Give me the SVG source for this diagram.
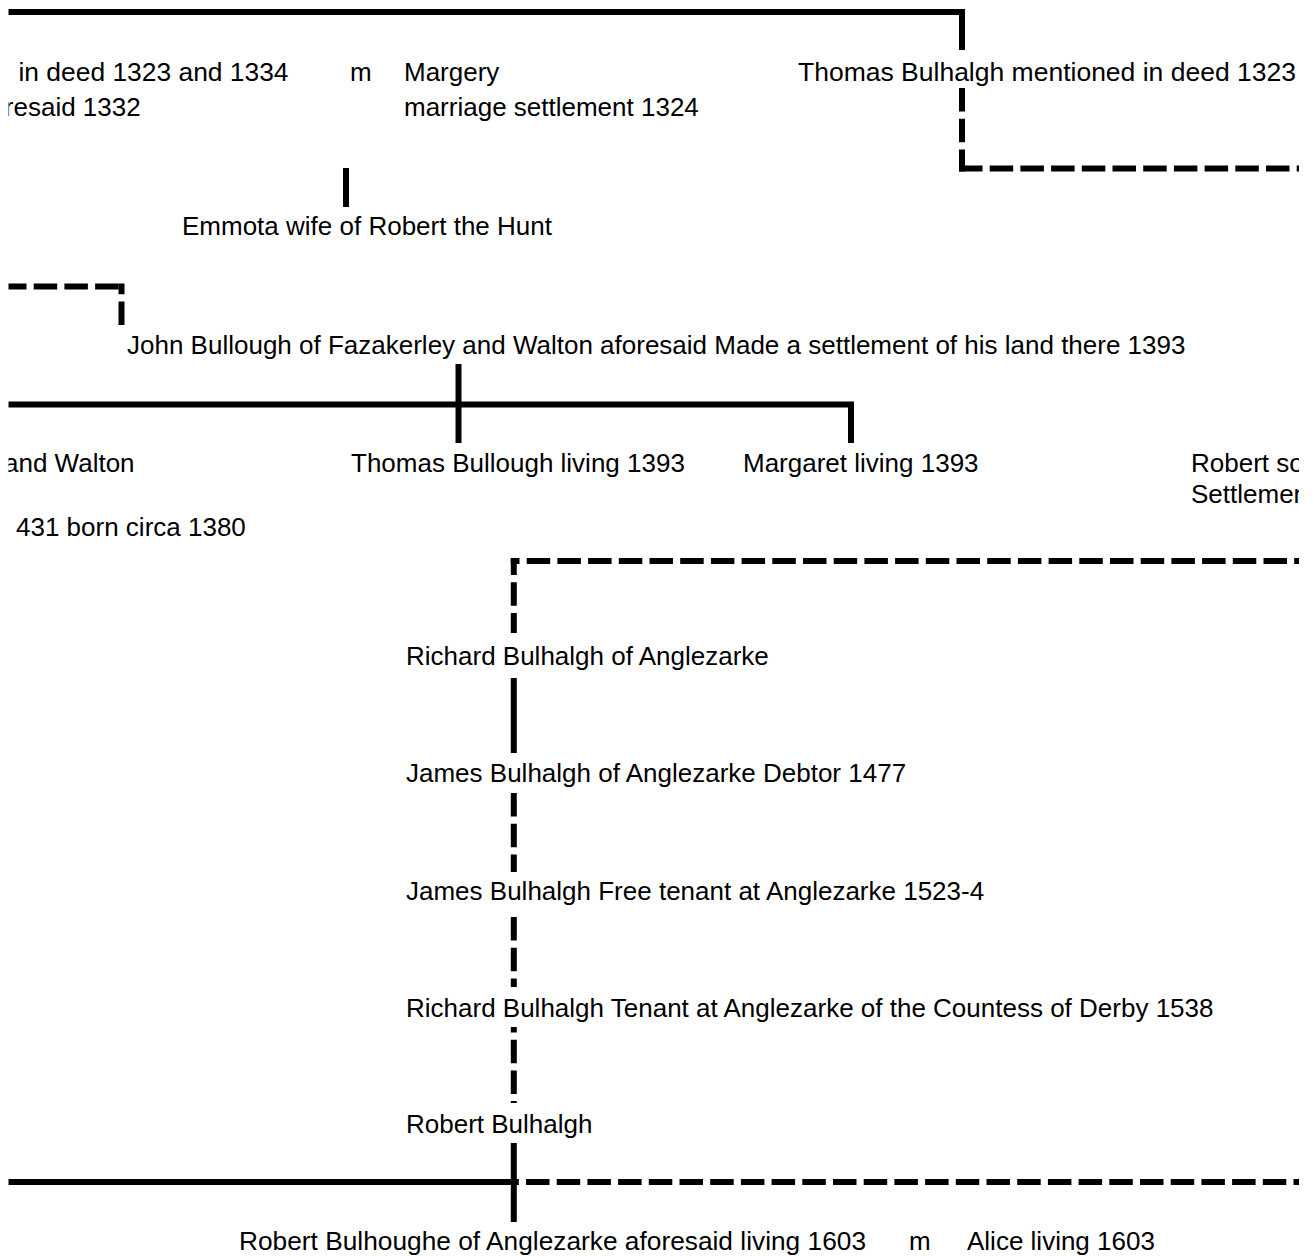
<svg xmlns="http://www.w3.org/2000/svg" width="1314" height="1256" viewBox="0 0 1314 1256">
<style>
.t{font-family:"Liberation Sans",Arial,sans-serif;font-size:26px;fill:#000}
.s{fill:none;stroke:#000;stroke-width:6;stroke-linejoin:miter;stroke-linecap:butt}
.d{stroke-dasharray:23.5 7.2}
</style>
<defs>
<clipPath id="crop"><rect x="8.5" y="0" width="1290.5" height="1256"/></clipPath>
</defs>
<rect width="1314" height="1256" fill="#fff"/>
<g clip-path="url(#crop)">
<g id="connectors">
<path class="s" d="M0,12 H962 V50"/>
<path class="s d" d="M962,88 V171.5"/>
<path class="s d" d="M959,168.5 H1314"/>
<path class="s" d="M346,168 V207"/>
<path class="s d" d="M3,286.5 H121.5"/>
<path class="s d" d="M121.5,325 V283.5"/>
<path class="s" d="M458.5,364 V443"/>
<path class="s" d="M0,404.5 H851 V443"/>
<path class="s d" d="M510.8,561 H1314" style="stroke-dashoffset:14.8"/>
<path class="s d" d="M513.8,558 V633" style="stroke-dashoffset:6.4"/>
<path class="s" d="M513.8,678 V753"/>
<path class="s d" d="M513.8,793 V872"/>
<path class="s d" d="M513.8,917 V987"/>
<path class="s d" d="M513.8,1027 V1103" style="stroke-dashoffset:18"/>
<path class="s" d="M0,1182 H513.8"/>
<path class="s d" d="M513.8,1182 H1314" style="stroke-dashoffset:18.5"/>
<path class="s" d="M513.8,1143 V1222"/>
</g>
<g id="n-thomas-1323-1334">
<text class="t" x="18.5" y="81" style="font-size:26.4px">in deed 1323 and 1334</text>
<text class="t" x="4.8" y="116">resaid 1332</text>
</g>
<g id="n-m1"><text class="t" x="350" y="81">m</text></g>
<g id="n-margery">
<text class="t" x="404" y="81">Margery</text>
<text class="t" x="404" y="116">marriage settlement 1324</text>
</g>
<g id="n-thomas-1323"><text class="t" x="798" y="81" style="font-size:26.5px">Thomas Bulhalgh mentioned in deed 1323</text></g>
<g id="n-emmota"><text class="t" x="182" y="235">Emmota wife of Robert the Hunt</text></g>
<g id="n-john"><text class="t" x="127" y="354">John Bullough of Fazakerley and Walton aforesaid Made a settlement of his land there 1393</text></g>
<g id="n-walton">
<text class="t" x="4" y="472">and Walton</text>
<text class="t" x="16" y="536">431 born circa 1380</text>
</g>
<g id="n-thomas-1393"><text class="t" x="351" y="472">Thomas Bullough living 1393</text></g>
<g id="n-margaret"><text class="t" x="743" y="472">Margaret living 1393</text></g>
<g id="n-robert-so">
<text class="t" x="1191" y="472">Robert so</text>
<text class="t" x="1191" y="503">Settlemen</text>
</g>
<g id="n-richard-1"><text class="t" x="406" y="665">Richard Bulhalgh of Anglezarke</text></g>
<g id="n-james-1"><text class="t" x="406" y="782">James Bulhalgh of Anglezarke Debtor 1477</text></g>
<g id="n-james-2"><text class="t" x="406" y="900">James Bulhalgh Free tenant at Anglezarke 1523-4</text></g>
<g id="n-richard-2"><text class="t" x="406" y="1017">Richard Bulhalgh Tenant at Anglezarke of the Countess of Derby 1538</text></g>
<g id="n-robert-1"><text class="t" x="406" y="1133">Robert Bulhalgh</text></g>
<g id="n-robert-2"><text class="t" x="239" y="1250" textLength="627" lengthAdjust="spacingAndGlyphs">Robert Bulhoughe of Anglezarke aforesaid living 1603</text></g>
<g id="n-m2"><text class="t" x="909" y="1250">m</text></g>
<g id="n-alice"><text class="t" x="967" y="1250">Alice living 1603</text></g>
</g>
</svg>
